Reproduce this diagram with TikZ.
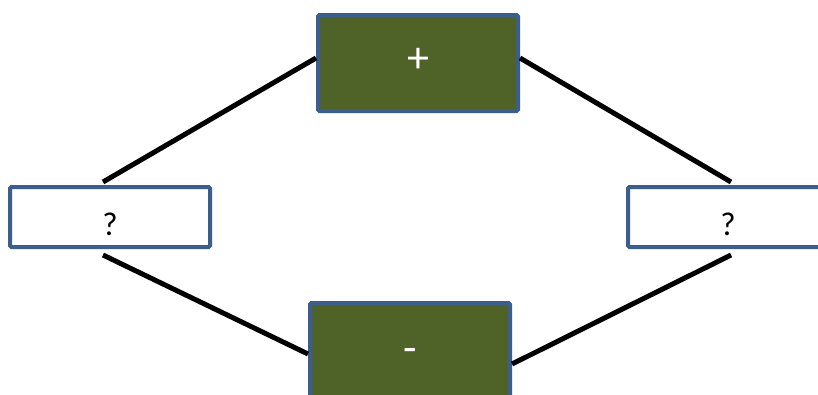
\documentclass[tikz,border=0pt]{standalone}
\usepackage{fontspec}
\setmainfont{Carlito}
\definecolor{boxblue}{HTML}{3B5E8C}
\definecolor{olive}{HTML}{4F6228}
\begin{document}
\begin{tikzpicture}[x=1pt,y=-1pt,
  box/.style={draw=boxblue,line width=4pt,rounded corners=1.5pt,minimum width=200pt,inner sep=0pt,text depth=0pt},
  darkbox/.style={box,fill=olive,text=white,minimum height=96pt,font=\fontsize{44}{48}\selectfont},
  lightbox/.style={box,fill=white,text=black,minimum height=60pt,font=\fontsize{33}{36}\selectfont,text height=36pt},
  conn/.style={line width=5pt,black}]
\useasboundingbox (0,0) rectangle (818,394);
\node[darkbox,text height=18pt] (plus) at (418,63) {+};
\node[lightbox] (qleft) at (110,217) {?};
\node[lightbox] (qright) at (728,217) {?};
\node[darkbox,text height=22pt] (minus) at (410,351) {-};
\draw[conn] ([xshift=-7pt,yshift=3pt]qleft.north) -- ([yshift=5pt]plus.west);
\draw[conn] ([yshift=5pt]plus.east) -- ([xshift=3pt,yshift=3pt]qright.north);
\draw[conn] ([xshift=-7pt,yshift=-6pt]qleft.south) -- ([yshift=-3pt]minus.west);
\draw[conn] ([yshift=-13pt]minus.east) -- ([xshift=3pt,yshift=-6pt]qright.south);
\end{tikzpicture}
\end{document}
